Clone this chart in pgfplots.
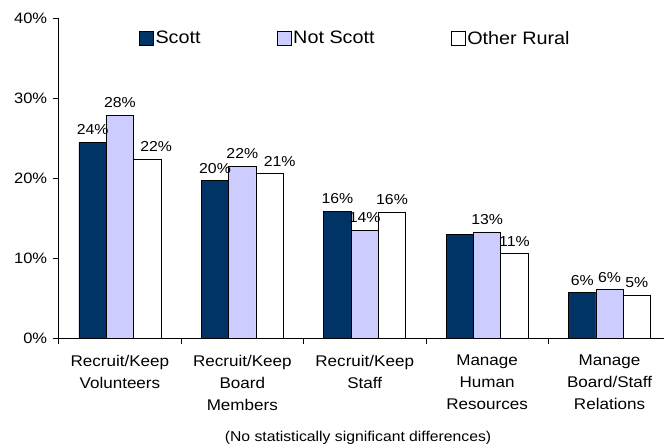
\documentclass[border=0pt]{standalone}
\usepackage{pgfplots}
\pgfplotsset{compat=1.18}
\usepackage{fontspec}
\setmainfont{Liberation Sans}[FakeStretch=1.1]
\definecolor{scott}{RGB}{0,51,102}
\definecolor{notscott}{RGB}{204,204,255}
\begin{document}
\begin{tikzpicture}
\path[use as bounding box] (-58.7pt,-108.7pt) rectangle (605.3pt,338.3pt);
\begin{axis}[
  scale only axis,
  width=605.3pt, height=320pt,
  xmin=-0.5, xmax=4.445,
  ymin=0, ymax=40,
  axis x line*=bottom, axis y line*=left,
  axis line style={line width=0.8pt},
  ytick={0,10,20,30,40},
  yticklabels={0\%,10\%,20\%,30\%,40\%},
  yticklabel style={font=\fontsize{15}{18}\selectfont, xshift=-2pt},
  tick align=outside,
  tick style={line width=0.8pt, black},
  major tick length=6pt,
  xtick={-0.5,0.5,1.5,2.5,3.5},
  xticklabels={},
  extra x ticks={0,1,2,3,4},
  extra x tick labels={{Recruit/Keep\\Volunteers},{Recruit/Keep\\Board\\Members},{Recruit/Keep\\Staff},{Manage\\Human\\Resources},{Manage\\Board/Staff\\Relations}},
  extra x tick style={major tick length=0pt},
  xticklabel style={font=\fontsize{15.5}{22}\selectfont, align=center, yshift=-13pt},
  ybar=0pt,
  bar width=27.3pt,
  point meta=explicit symbolic,
  nodes near coords,
  every node near coord/.append style={font=\fontsize{14.4}{17}\selectfont, inner sep=0pt, anchor=south, yshift=7pt},
  legend columns=3,
  legend style={draw=none, fill=none, inner sep=0pt, font=\fontsize{18}{21}\selectfont,
    at={(rel axis cs:0.133,0.9375)}, anchor=west,
    nodes={inner sep=1.5pt},
    /tikz/every even column/.append style={column sep=75pt}},
  legend image code/.code={\draw[#1] (0pt,-7pt) rectangle (14pt,7pt);},
]
\addplot[fill=scott, draw=black, line width=0.6pt] coordinates {
  (0,24.5) [24\%]
  (1,19.7) [20\%]
  (2,15.9) [16\%]
  (3,13.0) [{}]
  (4,5.7) [6\%]
};
\addplot[fill=notscott, draw=black, line width=0.6pt] coordinates {
  (0,27.9) [28\%]
  (1,21.5) [22\%]
  (2,13.5) [14\%]
  (3,13.3) [{13\%\hspace{18pt}}]
  (4,6.1) [6\%]
};
\addplot[fill=white, draw=black, line width=0.6pt] coordinates {
  (0,22.4) [{\hspace{18pt}22\%}]
  (1,20.6) [{\hspace{20pt}21\%}]
  (2,15.8) [16\%]
  (3,10.6) [11\%]
  (4,5.4) [5\%]
};
\legend{Scott,Not Scott,Other Rural}
\end{axis}
\node[font=\fontsize{14.3}{16}\selectfont] at (299.3pt,-100pt) {(No statistically significant differences)};
\end{tikzpicture}
\end{document}
